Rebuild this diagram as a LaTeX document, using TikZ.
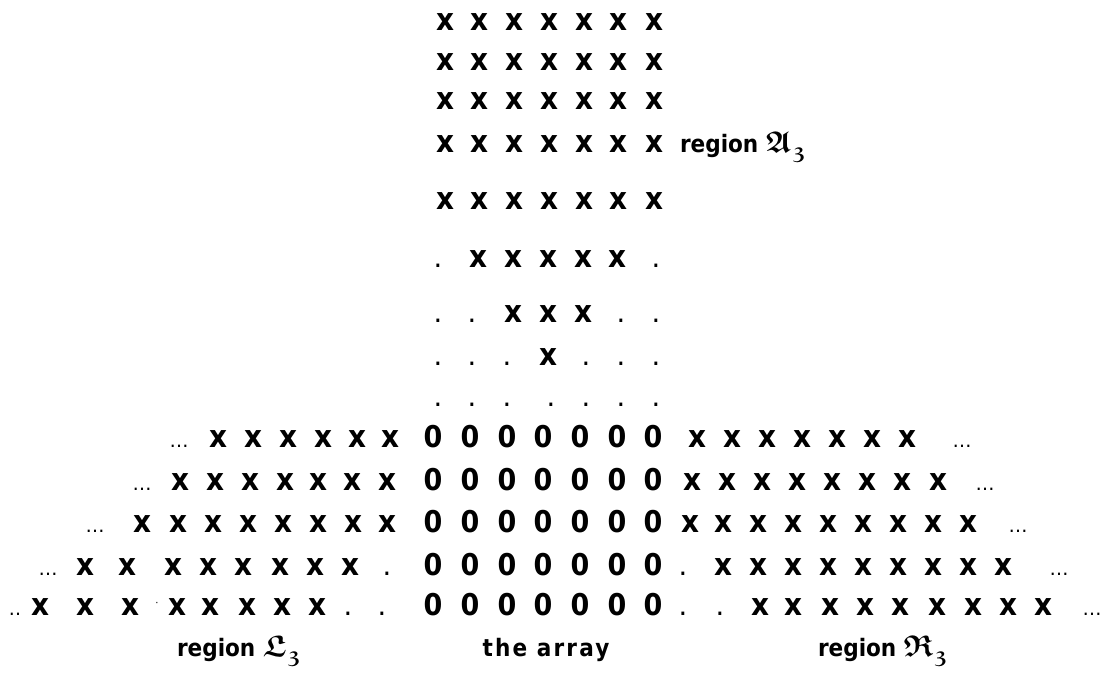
\documentclass[tikz,border=0pt]{standalone}
\usepackage{amssymb}
\usepackage{fontspec}
\newfontfamily\tfont{DejaVu Sans Condensed Bold}
\newfontfamily\dfont{DejaVu Sans}
\newcommand\putrow[5]{\foreach \px [count=\k] in {#4} {\node[#2] (#1-\k) at (\px,#3) {#5};}}
% fraktur region name with a large lowered subscript
\newcommand\frakname[1]{{\fontsize{30}{30}\selectfont\boldmath$\mathfrak{#1}$}\kern1pt\raisebox{-6pt}{\fontsize{22}{22}\selectfont\boldmath$\mathfrak{3}$}}
\tikzset{
  glyph/.style={inner sep=0pt, outer sep=0pt, anchor=base},
  xm/.style={glyph, font=\tfont\fontsize{31}{31}\selectfont},
  zm/.style={glyph, font=\tfont\fontsize{30}{30}\selectfont},
  dm/.style={glyph, font=\tfont\fontsize{18}{18}\selectfont},
  em/.style={glyph, font=\dfont\fontsize{19}{19}\selectfont},
  lbl/.style={glyph, font=\tfont\fontsize{24}{24}\selectfont},
}
\begin{document}
\begin{tikzpicture}[x=1pt, y=-1pt]
\useasboundingbox (0,0) rectangle (1115,673);
% the triangular region above the array
\putrow{t1}{xm}{30}{445,479,514,549,584,618,654}{x}
\putrow{t2}{xm}{70}{445,479,514,549,584,618,654}{x}
\putrow{t3}{xm}{109}{445,479,514,549,584,618,654}{x}
\putrow{t4}{xm}{152}{445,479,514,549,584,618,654}{x}
\putrow{t5}{xm}{209}{445,479,514,549,584,618,654}{x}
\putrow{t6x}{xm}{267}{478,513,548,583,617}{x}
\putrow{t6d}{dm}{267}{438,656}{.}
\putrow{t7x}{xm}{322}{513,548,583}{x}
\putrow{t7d}{dm}{322}{438,472,621,656}{.}
\putrow{t8x}{xm}{365}{548}{x}
\putrow{t8d}{dm}{365}{438,472,507,586,621,656}{.}
\putrow{t9d}{dm}{406}{438,472,507,551,586,621,656}{.}
\node[lbl, anchor=base west] (regA) at (680,152) {region \frakname{A}};
% the array: seven columns of zeros in five rows
\foreach \y [count=\r] in {447,490,532,575,615} {
  \putrow{b\r z}{zm}{\y}{433,470,507,543,580,617,653}{0}
}
% row 1
\putrow{b1l}{xm}{447}{218,253,288,323,357,390}{x}
\putrow{b1r}{xm}{447}{697,732,767,802,837,872,907}{x}
\putrow{b1e}{em}{447}{179,962}{…}
% row 2
\putrow{b2l}{xm}{490}{180,215,250,285,318,352,387}{x}
\putrow{b2r}{xm}{490}{692,727,762,797,832,867,902,938}{x}
\putrow{b2e}{em}{490}{142,985}{…}
% row 3
\putrow{b3l}{xm}{532}{142,178,213,248,283,318,353,387}{x}
\putrow{b3r}{xm}{532}{690,723,758,793,828,863,898,933,968}{x}
\putrow{b3e}{em}{532}{95,1018}{…}
% row 4
\putrow{b4l}{xm}{575}{85,127,173,208,243,280,315,350}{x}
\putrow{b4d}{dm}{575}{387,683}{.}
\putrow{b4r}{xm}{575}{723,758,793,828,863,898,933,968,1003}{x}
\putrow{b4e}{em}{575}{48,1059}{…}
% row 5
\putrow{b5l}{xm}{615}{40,85,130,177,210,247,282,317}{x}
\putrow{b5d}{dm}{615}{348,382,683,720}{.}
\putrow{b5r}{xm}{615}{760,793,830,865,900,937,973,1008,1043}{x}
\putrow{b5e}{em}{615}{1092}{…}
\node[em] (b5f) at (15,615) {..};
\node[glyph, font=\dfont\fontsize{10}{10}\selectfont] (b5s) at (157,606) {·};
% captions
\node[lbl, anchor=base west] (regL) at (177,656) {region \frakname{L}};
\node[lbl] (arr) at (546,656) {\addfontfeature{LetterSpace=9}the array};
\node[lbl, anchor=base west] (regR) at (818,656) {region \frakname{R}};
\end{tikzpicture}
\end{document}
